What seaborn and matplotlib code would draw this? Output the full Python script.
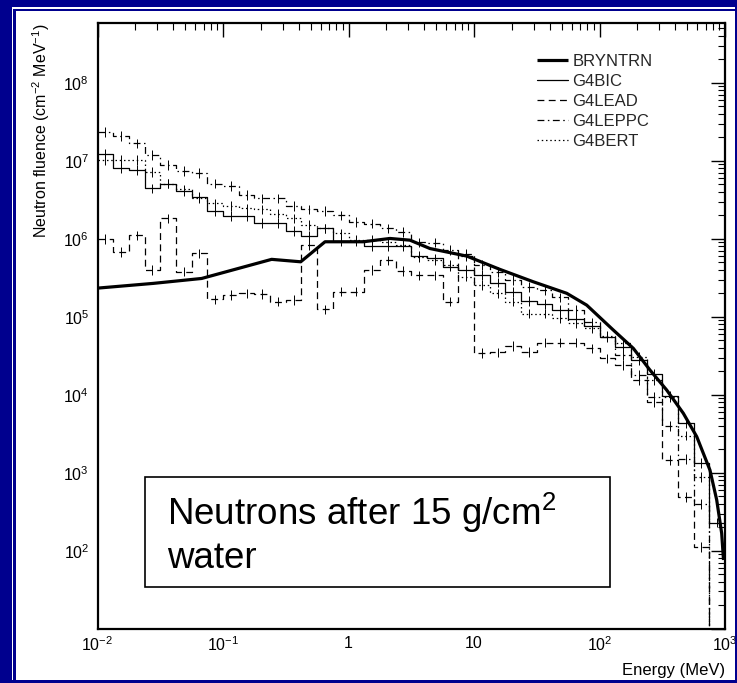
import numpy as np
import pandas as pd
import matplotlib
matplotlib.use("Agg")
import matplotlib.pyplot as plt
import seaborn as sns
from matplotlib.patches import Rectangle
from matplotlib.ticker import FixedLocator, FixedFormatter, LogLocator, NullFormatter

# ---------------- data ----------------
# histogram bin edges (8 bins per decade, 0.01 MeV .. 1000 MeV)
bin_edges = np.logspace(-2, 3, 41)

g4bic = [1.24e7, 8.0e6, 7.6e6, 4.43e6, 5.1e6, 4.1e6, 3.45e6, 2.28e6, 1.97e6, 1.97e6,
         1.6e6, 1.6e6, 1.26e6, 1.08e6, 1.36e6, 9.4e5, 9.4e5, 8.05e5, 8.05e5, 8.05e5,
         6.0e5, 5.6e5, 4.38e5, 3.97e5, 3.43e5, 2.73e5, 2.09e5, 1.6e5, 1.46e5, 1.22e5,
         9.5e4, 7.6e4, 5.55e4, 4.1e4, 2.79e4, 1.84e4, 9.6e3, 4.37e3, 1.34e3, 2.3e2]

g4lead = [1.0e6, 6.8e5, 1.11e6, 4.0e5, 1.83e6, 3.8e5, 6.5e5, 1.67e5, 1.9e5, 2.0e5,
          1.95e5, 1.56e5, 1.64e5, 8.3e5, 1.24e5, 2.1e5, 2.1e5, 4.0e5, 5.3e5, 3.85e5,
          3.4e5, 3.4e5, 1.56e5, 6.4e5, 3.45e4, 3.5e4, 4.2e4, 3.55e4, 4.65e4, 4.65e4,
          4.65e4, 3.94e4, 2.93e4, 2.4e4, 1.54e4, 8.1e3, 1.46e3, 4.9e2, 1.12e2, 1.0]

g4leppc = [2.35e7, 2.07e7, 1.67e7, 1.18e7, 8.8e6, 7.4e6, 7.0e6, 5.1e6, 4.74e6, 3.63e6,
           3.3e6, 3.3e6, 2.62e6, 2.38e6, 2.28e6, 2.0e6, 1.65e6, 1.57e6, 1.36e6, 1.23e6,
           9.0e5, 8.9e5, 7.2e5, 6.0e5, 4.6e5, 3.74e5, 2.95e5, 2.4e5, 2.2e5, 1.78e5,
           1.22e5, 8.5e4, 5.5e4, 3.2e4, 1.8e4, 9.4e3, 4.0e3, 1.5e3, 4.0e2, 1.0]

g4bert = [1.02e7, 1.02e7, 1.02e7, 7.2e6, 5.1e6, 4.3e6, 3.3e6, 2.84e6, 2.62e6, 2.45e6,
          2.38e6, 2.11e6, 1.83e6, 1.5e6, 1.36e6, 1.17e6, 9.6e5, 9.6e5, 9.2e5, 8.3e5,
          5.8e5, 5.3e5, 4.6e5, 3.26e5, 2.55e5, 2.0e5, 1.56e5, 1.1e5, 1.1e5, 9.6e4,
          8.2e4, 7.1e4, 5.7e4, 4.65e4, 3.07e4, 1.54e4, 9.4e3, 3.0e3, 8.8e2, 1.0]

bryntrn_energy = [0.01, 0.0278, 0.0676, 0.244, 0.416, 0.65, 1.31, 2.14, 3.09, 4.46,
                  8.75, 16.1, 29.7, 54.8, 79.1, 128.8, 185.9, 252.6, 343.0, 465.6,
                  595.6, 759.0, 859.0, 941.0, 973.0]
bryntrn_fluence = [2.33e5, 2.68e5, 3.1e5, 5.45e5, 5.07e5, 9.16e5, 9.16e5, 1.01e6, 9.6e5, 7.5e5,
                   6.0e5, 4.05e5, 2.81e5, 2.0e5, 1.41e5, 6.76e4, 3.94e4, 2.07e4, 1.15e4, 5.78e3,
                   2.9e3, 1.08e3, 4.47e2, 1.67e2, 76.0]

x_tick_values = [1e-2, 1e-1, 1, 10, 1e2, 1e3]
x_tick_labels = ["$10^{-2}$", "$10^{-1}$", "1", "10", "$10^{2}$", "$10^{3}$"]
y_tick_values = [1e1, 1e2, 1e3, 1e4, 1e5, 1e6, 1e7, 1e8]
y_tick_labels = ["", "$10^{2}$", "$10^{3}$", "$10^{4}$", "$10^{5}$", "$10^{6}$", "$10^{7}$", "$10^{8}$"]

# ---------------- style ----------------
sns.set_theme(style="white")
plt.rcParams["font.family"] = ["Liberation Sans", "DejaVu Sans"]
plt.rcParams["mathtext.fontset"] = "custom"
plt.rcParams["mathtext.rm"] = "Liberation Sans"
plt.rcParams["mathtext.it"] = "Liberation Sans:italic"
plt.rcParams["mathtext.bf"] = "Liberation Sans:bold"
plt.rcParams["mathtext.sf"] = "Liberation Sans"

W, H = 737, 683
fig = plt.figure(figsize=(W / 100, H / 100), dpi=100, facecolor="white")

# slide frame
blue = "#00008e"
def fr(x0, y0, x1, y1, color):
    fig.patches.append(Rectangle((x0 / W, 1 - y1 / H), (x1 - x0) / W, (y1 - y0) / H,
                                 transform=fig.transFigure, fc=color, ec="none", zorder=0))
fr(0, 0, 12, H, blue)
fr(0, 0, W, 7, blue)
fr(13.3, 8.6, 16, H, blue)
fr(13.3, 8.6, W, 11.4, blue)
fr(735, 0, W, H, blue)
fr(0, 680, W, H, blue)

ax = fig.add_axes([97.5 / W, 1 - 628.7 / H, 627.5 / W, 605.4 / H])
ax.set_facecolor("white")
ax.set_xscale("log")
ax.set_yscale("log")

handles = []
sns.lineplot(x=bryntrn_energy, y=bryntrn_fluence, ax=ax, color="black", lw=2.3,
             sort=False, estimator=None, solid_capstyle="butt")
handles.append(ax.lines[-1])

styles = [
    ("G4BIC", g4bic, "-"),
    ("G4LEAD", g4lead, (0, (5.5, 3.5))),
    ("G4LEPPC", g4leppc, (0, (5.5, 2.8, 1.2, 2.8))),
    ("G4BERT", g4bert, (0, (1.2, 2.2))),
]
centers = np.sqrt(bin_edges[:-1] * bin_edges[1:])
for name, vals, ls in styles:
    v = np.asarray(vals, dtype=float)
    yext = np.append(v, v[-1])
    sns.lineplot(x=bin_edges, y=yext, ax=ax, color="black", lw=0.9, linestyle=ls,
                 drawstyle="steps-post", sort=False, estimator=None)
    handles.append(ax.lines[-1])
    ok = v > 20
    lo = v[ok] - v[ok] / 1.15
    hi = v[ok] * 1.15 - v[ok]
    ax.errorbar(centers[ok], v[ok], yerr=[lo, hi], fmt="none", ecolor="black",
                elinewidth=0.7, capsize=0)

labels = ["BRYNTRN", "G4BIC", "G4LEAD", "G4LEPPC", "G4BERT"]
leg = ax.legend(handles, labels, loc="upper left", bbox_to_anchor=(0.700, 0.950),
                frameon=False, fontsize=12, handlelength=1.85, handletextpad=0.3,
                labelspacing=0.3, borderpad=0, borderaxespad=0)

ax.set_xlim(1e-2, 1e3)
ax.set_ylim(10, 5.8e8)

ax.xaxis.set_major_locator(FixedLocator(x_tick_values))
ax.xaxis.set_major_formatter(FixedFormatter(x_tick_labels))
ax.xaxis.set_minor_locator(LogLocator(base=10, subs=np.arange(2, 10), numticks=50))
ax.xaxis.set_minor_formatter(NullFormatter())
ax.yaxis.set_major_locator(FixedLocator(y_tick_values))
ax.yaxis.set_major_formatter(FixedFormatter(y_tick_labels))
ax.yaxis.set_minor_locator(LogLocator(base=10, subs=np.arange(2, 10), numticks=50))
ax.yaxis.set_minor_formatter(NullFormatter())

ax.tick_params(which="both", direction="in", top=True, right=True, colors="black",
               labelsize=11.5)
ax.tick_params(which="major", length=10, width=1.0)
ax.tick_params(which="minor", length=5, width=0.8)
ax.tick_params(axis="y", which="major", pad=6)
ax.tick_params(axis="x", which="major", pad=5)
for s in ax.spines.values():
    s.set_color("black")
    s.set_linewidth(1.6)

ax.set_ylabel("Neutron fluence (cm$^{-2}$ MeV$^{-1}$)", loc="top", fontsize=11.5,
              labelpad=8, color="black")
ax.set_xlabel("Energy (MeV)", loc="right", fontsize=12, labelpad=6.5, color="black")

# annotation box
ax.add_patch(Rectangle((0.0757, 0.0684), 0.741, 0.1826, transform=ax.transAxes,
                       fc="white", ec="black", lw=1.2, zorder=5))
ax.text(0.1103, 0.1712, "Neutrons after 15 g/cm$^{2}$", transform=ax.transAxes,
        fontsize=26.5, ha="left", va="baseline", zorder=6, color="black")
ax.text(0.1103, 0.0997, "water", transform=ax.transAxes,
        fontsize=26.5, ha="left", va="baseline", zorder=6, color="black")

fig.savefig("out.png", dpi=100, facecolor=fig.get_facecolor())
